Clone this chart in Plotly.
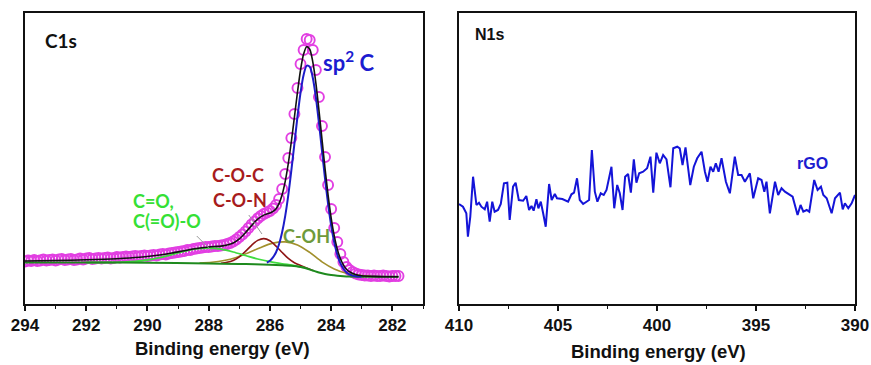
import numpy as np
import plotly.graph_objects as go

W, H = 871, 365

# ---------------- C1s spectrum (left panel) ----------------
# measured points, 294.0 -> 281.8 eV in 0.1 eV steps
c1s_energy = np.round(np.arange(294.0, 281.75, -0.1), 1)
c1s_counts = [
    42.5, 43.5, 43, 44, 43, 43.5, 44.5, 43.5, 44, 44.5,
    43.5, 44.5, 45, 44, 44.5, 45, 44, 44.5, 45.5, 44.5,
    45.5, 46, 45, 45.5, 46, 45.5, 46, 46.5, 45.5, 46,
    47, 46.5, 47, 47.5, 47, 47.5, 48, 47.5, 48, 48.5,
    48, 48.5, 49, 48.5, 49.5, 50, 49.5, 50.5, 51, 51.5,
    52, 52.5, 53, 54, 54, 55, 55.5, 56, 56.5, 57,
    57, 57.5, 58, 58, 58.5, 59, 60, 61, 62.5, 64.5,
    67, 69.5, 72.5, 76, 79.5, 82.5, 85.5, 88, 90, 91.5,
    93, 95.5, 99, 105, 115, 130, 146, 166, 190, 216,
    240, 254, 265, 264, 254, 234, 207, 178, 147, 119,
    95, 76, 62, 50, 42, 37, 34, 32, 30.5, 29.5,
    29, 28.5, 28.5, 28, 28.5, 28, 28, 28.5, 28, 27.5,
    28, 28, 28,
]
assert len(c1s_counts) == len(c1s_energy)

# envelope of the peak fit
fit_energy = [294, 293, 292, 291, 290.4, 290.0, 289.6, 289.2, 288.8, 288.4, 288.0,
              287.8, 287.6, 287.4, 287.2, 287.0, 286.8, 286.6, 286.4, 286.2, 286.1, 286.0,
              285.9, 285.8, 285.7, 285.6, 285.5, 285.4, 285.3, 285.2, 285.1, 285.0,
              284.9, 284.8, 284.7, 284.6, 284.5, 284.4, 284.3, 284.2, 284.1, 284.0,
              283.9, 283.8, 283.7, 283.6, 283.5, 283.4, 283.2, 283.0, 282.6, 282.2, 281.8]
fit_counts = [43, 43.5, 44.2, 45.3, 46.5, 47.5, 49, 51, 53.3, 55.5, 57.0,
              57.5, 57.9, 59.0, 61.0, 65.1, 71.3, 78.4, 84.9, 88.9, 90.1, 91.0,
              92.6, 95.3, 100.6, 109.5, 122.7, 140.5, 162.5, 187.0, 211.8, 234.0,
              249.9, 257.3, 254.8, 242.2, 221.2, 194.2, 164.8, 135.5, 108.8, 86.2,
              68.3, 54.9, 45.5, 39.1, 34.8, 32.2, 29.5, 28.3, 27.6, 27.3, 27.2]

# Shirley background
bg_energy = [294, 292, 290, 288, 287, 286.5, 286, 285.6, 285.3, 285.0, 284.8,
             284.6, 284.4, 284.2, 284.0, 283.8, 283.6, 283.4, 283.0, 282.5, 281.8]
bg_counts = [41.5, 41.5, 41.2, 40.5, 40.0, 39.7, 39.3, 38.8, 38.2, 37.0, 35.5,
             33.5, 31.5, 30.0, 29.0, 28.3, 27.8, 27.5, 27.3, 27.2, 27.2]

# sp2 C component
sp2_energy = [286.1, 286.0, 285.9, 285.8, 285.7, 285.6, 285.5, 285.4, 285.3, 285.2,
              285.1, 285.0, 284.9, 284.8, 284.7, 284.6, 284.5, 284.4, 284.3, 284.2,
              284.1, 284.0, 283.9, 283.8, 283.7, 283.6, 283.5, 283.4, 283.3, 283.2, 283.0]
sp2_counts = [41.4, 43.3, 46.6, 51.8, 60.0, 72.0, 88.2, 108.9, 133.6, 160.4,
              187.3, 211.4, 229.1, 238.2, 237.2, 226.3, 206.9, 181.4, 153.4, 125.4,
              100.0, 78.6, 61.8, 49.4, 40.8, 35.2, 31.6, 29.6, 28.4, 27.8, 27.4]

# C-OH component
coh_energy = [288.3, 287.9, 287.5, 287.1, 286.7, 286.3, 285.9, 285.5, 285.1, 284.7,
              284.3, 283.9, 283.5, 283.1, 282.7]
coh_counts = [40.9, 41.7, 43.5, 46.6, 51.2, 56.6, 60.9, 62.1, 59.1, 51.6,
              42.2, 35.1, 30.8, 28.6, 27.7]

# C-O-C / C-O-N component
coc_energy = [287.6, 287.4, 287.2, 287.0, 286.8, 286.6, 286.4, 286.2, 286.0, 285.8,
              285.6, 285.4, 285.2, 285.0, 284.8, 284.6]
coc_counts = [40.8, 41.7, 43.6, 47.2, 52.6, 58.7, 63.6, 65.4, 63.3, 57.9,
              51.5, 45.6, 41.3, 38.5, 36.0, 33.6]

# C=O / C(=O)-O component
co_energy = [292.0, 291.6, 291.2, 290.8, 290.4, 290.0, 289.6, 289.2, 288.8, 288.4,
             288.0, 287.6, 287.2, 286.8, 286.4, 286.0, 285.6, 285.2, 284.8]
co_counts = [41.5, 41.5, 41.5, 41.8, 42.5, 44.0, 46.3, 49.4, 52.6, 55.1,
             56.0, 54.8, 52.0, 48.5, 45.0, 42.3, 40.2, 38.4, 35.7]

# ---------------- N1s spectrum (right panel) ----------------
n1s_energy = [410.0, 409.8, 409.63, 409.55, 409.43, 409.29, 409.12, 408.99, 408.87, 408.7,
              408.58, 408.45, 408.32, 408.2, 408.03, 407.89, 407.73, 407.56, 407.44, 407.27,
              407.14, 406.98, 406.76, 406.6, 406.46, 406.34, 406.23, 406.09, 405.99, 405.87,
              405.75, 405.62, 405.45, 405.32, 405.16, 405.05, 404.78, 404.49, 404.32, 404.19,
              404.04, 403.9, 403.73, 403.56, 403.43, 403.29, 403.14, 403.01, 402.84, 402.69,
              402.55, 402.3, 402.16, 402.01, 401.88, 401.74, 401.61, 401.46, 401.32, 401.17,
              401.04, 400.9, 400.7, 400.5, 400.33, 400.19, 400.03, 399.86, 399.69, 399.52,
              399.32, 399.18, 398.98, 398.85, 398.71, 398.56, 398.32, 398.14, 397.97, 397.75,
              397.58, 397.45, 397.3, 397.16, 397.03, 396.89, 396.74, 396.52, 396.32, 396.07,
              395.9, 395.73, 395.56, 395.31, 395.14, 394.89, 394.72, 394.58, 394.47, 394.3,
              394.04, 393.88, 393.71, 393.54, 393.29, 393.15, 392.9, 392.75, 392.61, 392.44,
              392.31, 392.06, 391.89, 391.72, 391.6, 391.43, 391.18, 391.01, 390.76, 390.62,
              390.51, 390.34, 390.17, 390.0]
n1s_counts = [100, 97.3, 90.7, 67.3, 87.3, 127.3, 99, 101.3, 97.3, 94.7,
              102.3, 82.3, 102.3, 92.3, 94, 100, 120.7, 121.3, 84, 117.3,
              121.3, 104, 103.3, 108, 94, 98, 93.3, 104.7, 95.7, 102.3,
              90.7, 77.3, 120, 104, 110, 105.7, 105, 102.3, 109.7, 111.3,
              125.7, 104, 100, 102.3, 104, 154, 112.3, 102.3, 110.7, 109,
              114, 137.3, 95.7, 119, 110.7, 94, 127.3, 130, 111.3, 144.7,
              121.3, 130.7, 132.3, 135.7, 147.3, 111.3, 151.3, 140.7, 149, 144.7,
              116.7, 155.7, 157.3, 155.7, 139, 156.7, 119, 137.3, 145.7, 152.3,
              132.3, 122.3, 137.3, 132.3, 140.7, 132.3, 145.7, 122.3, 110.7, 147.3,
              129, 129, 122.3, 130.7, 105.7, 125.7, 124, 112.3, 122.3, 90.7,
              122.3, 109, 115.7, 112.3, 109, 107.3, 89, 99, 92.3, 94,
              92.3, 124, 114, 117.3, 109, 105.7, 90.7, 105.7, 111.3, 94.7,
              100.7, 95.7, 100.7, 109]
assert len(n1s_energy) == len(n1s_counts)

C1S_TICKS = [294, 292, 290, 288, 286, 284, 282]
N1S_TICKS = [410, 405, 400, 395, 390]
X_TITLE = "Binding energy (eV)"

# ---------------- styling ----------------
MAGENTA = "#E23FE2"
BLUE = "#1C1CC8"
DARKRED = "#8E1515"
OLIVE = "#A2902C"
LIME = "#3FDC3F"
DKGREEN = "#1E8A1E"
LABEL_FONT = "Lato, 'Open Sans', sans-serif"
AXIS_FONT = "'Liberation Sans', Arial, sans-serif"


def px(x):
    return x / W


def py(y):
    return 1 - y / H


fig = go.Figure()

fig.add_trace(go.Scatter(
    x=c1s_energy, y=c1s_counts, mode="markers",
    marker=dict(symbol="circle-open", size=10, color=MAGENTA, line=dict(width=1.9, color=MAGENTA)),
    xaxis="x", yaxis="y", showlegend=False))

for xs, ys, col, w in [
    (coh_energy, coh_counts, OLIVE, 1.6),
    (coc_energy, coc_counts, DARKRED, 1.6),
    (co_energy, co_counts, LIME, 1.8),
    (bg_energy, bg_counts, DKGREEN, 2.0),
    (sp2_energy, sp2_counts, BLUE, 2.0),
    (fit_energy, fit_counts, "#111111", 1.6),
]:
    fig.add_trace(go.Scatter(
        x=xs, y=ys, mode="lines", line=dict(color=col, width=w, shape="spline", smoothing=0.8),
        xaxis="x", yaxis="y", showlegend=False))

fig.add_trace(go.Scatter(
    x=n1s_energy, y=n1s_counts, mode="lines", line=dict(color="#1414D8", width=2),
    xaxis="x2", yaxis="y2", showlegend=False))

axis_common = dict(
    showline=True, linecolor="#111111", linewidth=1.6, mirror=True,
    showgrid=False, zeroline=False, automargin=False,
)
tick_common = dict(
    ticks="outside", ticklen=5, tickwidth=1.5, tickcolor="#111111",
    tickfont=dict(family=AXIS_FONT, size=17, color="#111111", weight="bold"),
)

fig.update_layout(
    width=W, height=H, margin=dict(l=0, r=0, t=0, b=0),
    paper_bgcolor="white", plot_bgcolor="white",
    xaxis=dict(
        domain=[px(25), px(423)], range=[294, 281], autorange=False,
        tickvals=C1S_TICKS,
        minor=dict(dtick=1, tick0=281, ticks="outside", ticklen=3, tickwidth=1.2, tickcolor="#111111"),
        anchor="y", **tick_common, **axis_common),
    yaxis=dict(
        domain=[py(304), py(13)], range=[0, 291], autorange=False,
        showticklabels=False, ticks="", anchor="x", **axis_common),
    xaxis2=dict(
        domain=[px(459), px(855)], range=[410, 390], autorange=False,
        tickvals=N1S_TICKS,
        minor=dict(dtick=2.5, tick0=390, ticks="outside", ticklen=3, tickwidth=1.2, tickcolor="#111111"),
        anchor="y2", **tick_common, **axis_common),
    yaxis2=dict(
        domain=[py(304), py(13)], range=[0, 291], autorange=False,
        showticklabels=False, ticks="", anchor="x2", **axis_common),
)


def label(text, x, y, color, size, family=LABEL_FONT, xanchor="center"):
    fig.add_annotation(
        text=text, x=px(x), y=py(y), xref="paper", yref="paper",
        xanchor=xanchor, yanchor="middle", showarrow=False,
        font=dict(family=family, size=size, color=color, weight="bold"))


# axis titles
label(X_TITLE, 222, 348, "#111111", 18.5, family=AXIS_FONT)
label(X_TITLE, 658, 351, "#111111", 18.5, family=AXIS_FONT)

# panel and peak labels
label("C1s", 61, 41, "#111111", 19)
label("sp<sup>2</sup> C", 348, 62, "#1C1CD0", 22)
label("C-O-C", 238, 175, "#A81C1C", 18)
label("C-O-N", 240, 200, "#A81C1C", 18)
label("C=O,", 131, 201, "#35E035", 18, xanchor="left")
label("C(=O)-O", 131, 221, "#35E035", 18, xanchor="left")
label("C-OH", 306, 236, "#6F9A3A", 18)
label("N1s", 490, 35, "#111111", 16, family=AXIS_FONT)
label("rGO", 812, 164, "#1C1CD0", 16, family=AXIS_FONT)

# thin grey leader lines from labels to their components
for x0, y0, x1, y1 in [(286.69, 89, 286.26, 70), (288.39, 68, 287.9, 53)]:
    fig.add_shape(type="line", xref="x", yref="y", x0=x0, y0=y0, x1=x1, y1=y1,
                  line=dict(color="#9A9A9A", width=1))

fig.write_html("out.html")
